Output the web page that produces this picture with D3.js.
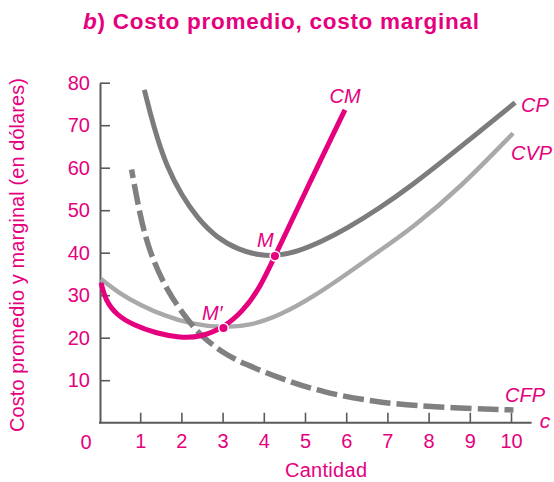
<!DOCTYPE html>
<meta charset="utf-8">
<style>
  body { margin: 0; background: #fff; }
  text { font-family: "Liberation Sans", Arial, Helvetica, sans-serif; }
</style>
<script src="https://d3js.org/d3.v7.min.js"></script>
<div id="grafico"></div>
<script>
// curve data (cantidad, costo)
const cpX = [1.1, 1.25, 1.4, 1.65, 2.0, 2.4, 2.85, 3.4, 3.9, 4.3, 4.8, 5.4, 6.0, 6.8, 7.6, 8.4, 9.25, 10.1];
const cpY = [78.3, 72.6, 67.4, 60.2, 53.6, 48.0, 43.6, 40.6, 39.4, 39.2, 40.2, 42.6, 45.6, 50.4, 55.9, 62.0, 68.6, 75.3];

const cvpX = [0.05, 0.5, 1.0, 1.6, 2.2, 3.0, 3.7, 4.4, 5.2, 6.0, 6.8, 7.6, 8.8, 10.05];
const cvpY = [33.8, 30.4, 27.7, 25.1, 23.3, 22.3, 22.9, 25.3, 29.6, 34.9, 40.4, 45.8, 55.6, 68.1];

const cmX = [0.05, 0.15, 0.43, 0.83, 1.4, 1.97, 2.45, 3.02, 3.5, 3.91, 4.27, 5.12, 5.97];
const cmY = [32.9, 28.9, 25.3, 23.0, 21.0, 20.0, 20.1, 22.3, 26.3, 31.8, 39.2, 56.6, 73.6];

const cfpX = [0.79, 0.98, 1.2, 1.64, 2.21, 2.53, 3.0, 3.5, 4.43, 5.44, 6.74, 8.03, 10.06];
const cfpY = [59.6, 49.5, 40.8, 31.0, 23.4, 20.0, 16.5, 13.9, 10.3, 7.1, 4.8, 3.7, 3.0];

// marked points
const puntosX = [4.27, 3.02];
const puntosY = [39.2, 22.3];

// ticks
const ticksX = [1, 2, 3, 4, 5, 6, 7, 8, 9, 10];
const ticksY = [10, 20, 30, 40, 50, 60, 70, 80];

const rosa = "#e5007e";
const ejeColor = "#5a5a5c";

const svg = d3.select("#grafico")
  .append("svg")
  .attr("width", 554)
  .attr("height", 482);

const x = d3.scaleLinear().domain([0, 10]).range([99, 511]);
const y = d3.scaleLinear().domain([0, 80]).range([422.7, 82.7]);

// title
const titulo = svg.append("text")
  .attr("x", 83).attr("y", 28.5)
  .attr("font-size", 22.5)
  .attr("font-weight", "bold")
  .attr("fill", rosa)
  .attr("textLength", 396)
  .attr("lengthAdjust", "spacing");
titulo.append("tspan").attr("font-style", "italic").text("b");
titulo.append("tspan").text(") Costo promedio, costo marginal");

// axes
const ejeX = svg.append("g")
  .attr("transform", `translate(0,${y(0)})`)
  .call(d3.axisBottom(x).tickValues(ticksX).tickSizeInner(-10).tickSizeOuter(0).tickPadding(11));
ejeX.select(".domain").attr("d", `M${x(0)},0H${x(10.5)}`);

const ejeY = svg.append("g")
  .attr("transform", `translate(${x(0) + 1},0)`)
  .call(d3.axisLeft(y).tickValues(ticksY).tickSizeInner(-10).tickSizeOuter(0).tickPadding(10));

[ejeX, ejeY].forEach(g => {
  g.select(".domain").attr("stroke", ejeColor).attr("stroke-width", 2);
  g.selectAll(".tick line").attr("stroke", ejeColor).attr("stroke-width", 1.6);
  g.selectAll(".tick text")
    .attr("fill", rosa)
    .attr("font-size", 20)
    .attr("font-family", "Liberation Sans, Arial, sans-serif");
});

svg.append("text")
  .attr("x", 86).attr("y", 449)
  .attr("text-anchor", "middle")
  .attr("font-size", 20)
  .attr("fill", rosa)
  .text("0");

// axis titles
svg.append("text")
  .attr("x", 285).attr("y", 477)
  .attr("font-size", 20)
  .attr("fill", rosa)
  .attr("textLength", 82)
  .attr("lengthAdjust", "spacing")
  .text("Cantidad");

svg.append("text")
  .attr("transform", "translate(24,432) rotate(-90)")
  .attr("font-size", 20)
  .attr("fill", rosa)
  .attr("textLength", 354)
  .attr("lengthAdjust", "spacing")
  .text("Costo promedio y marginal (en dólares)");

svg.append("text")
  .attr("x", 545).attr("y", 428)
  .attr("text-anchor", "middle")
  .attr("font-size", 21)
  .attr("font-style", "italic")
  .attr("fill", rosa)
  .text("c");

// curves
const linea = d3.line()
  .x(d => x(d[0]))
  .y(d => y(d[1]))
  .curve(d3.curveBasis);

function curva(xs, ys, color, ancho, guiones) {
  const p = svg.append("path")
    .datum(xs.map((v, i) => [v, ys[i]]))
    .attr("d", linea)
    .attr("fill", "none")
    .attr("stroke", color)
    .attr("stroke-width", ancho);
  if (guiones) p.attr("stroke-dasharray", guiones).attr("stroke-dashoffset", 12);
  return p;
}

curva(cvpX, cvpY, "#a9a9ab", 4.5);
curva(cfpX, cfpY, "#808082", 5.5, "21,6");
curva(cpX, cpY, "#7c7c7e", 5);
curva(cmX, cmY, rosa, 5);

// M and M' points
svg.selectAll("circle.punto")
  .data(puntosX.map((v, i) => [v, puntosY[i]]))
  .join("circle")
  .attr("class", "punto")
  .attr("cx", d => x(d[0]))
  .attr("cy", d => y(d[1]))
  .attr("r", 4.8)
  .attr("fill", rosa)
  .attr("stroke", "#fff")
  .attr("stroke-width", 1.5);

// curve labels
const etiquetas = [
  { t: "CM", px: 345, py: 103, a: "middle" },
  { t: "M", px: 257, py: 247, a: "start" },
  { t: "M′", px: 202, py: 320, a: "start" },
  { t: "CP", px: 521, py: 112, a: "start" },
  { t: "CVP", px: 511, py: 160, a: "start" },
  { t: "CFP", px: 505, py: 402, a: "start" }
];
svg.selectAll("text.etq")
  .data(etiquetas)
  .join("text")
  .attr("class", "etq")
  .attr("x", d => d.px)
  .attr("y", d => d.py)
  .attr("text-anchor", d => d.a)
  .attr("font-size", 20)
  .attr("font-style", "italic")
  .attr("fill", rosa)
  .text(d => d.t);
</script>
